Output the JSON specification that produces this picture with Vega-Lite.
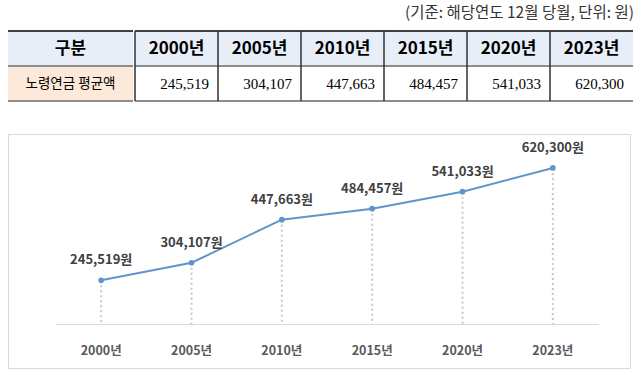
{
  "$schema": "https://vega.github.io/schema/vega-lite/v6.json",
  "padding": {"left": 7, "top": 5, "right": 0, "bottom": 0},
  "background": "white",
  "spacing": 31,
  "title": {"text": "(기준: 해당연도 12월 당월, 단위: 원)", "anchor": "end", "fontSize": 15.5, "fontWeight": "normal", "color": "#333333", "font": "Noto Sans CJK KR", "offset": 9},
  "config": {"view": {"stroke": null}, "font": "Noto Sans CJK KR"},
  "resolve": {"scale": {"x": "independent", "y": "independent"}},
  "datasets": {
    "pension": [
      {"year": "2000년", "value": 245519},
      {"year": "2005년", "value": 304107},
      {"year": "2010년", "value": 447663},
      {"year": "2015년", "value": 484457},
      {"year": "2020년", "value": 541033},
      {"year": "2023년", "value": 620300}
    ],
    "rows": [
      {"kind": "header", "text": "구분"},
      {"kind": "data", "text": "노령연금 평균액"}
    ]
  },
  "vconcat": [
    {
      "spacing": 0,
      "resolve": {"scale": {"x": "independent", "y": "independent"}},
      "hconcat": [
        {
          "width": 125,
          "height": 70,
          "data": {"name": "rows"},
          "layer": [
            {"mark": {"type": "rect"}, "encoding": {
              "y": {"field": "kind", "type": "nominal", "sort": null, "scale": {"domain": ["header", "data"], "paddingInner": 0, "paddingOuter": 0}, "axis": null},
              "fill": {"condition": {"test": "datum.kind === 'header'", "value": "#e7eef8"}, "value": "#fde9d9"}}},
            {"mark": {"type": "rule", "strokeWidth": 2}, "encoding": {"y": {"field": "kind", "type": "nominal", "sort": null, "bandPosition": 0}, "stroke": {"condition": {"test": "datum.kind === 'header'", "value": "#404040"}, "value": "#8c8c8c"}}},
            {"transform": [{"filter": "datum.kind === 'data'"}], "mark": {"type": "rule", "strokeWidth": 2, "stroke": "#8c8c8c"}, "encoding": {"y": {"field": "kind", "type": "nominal", "sort": null, "bandPosition": 1}}},
            {"transform": [{"filter": "datum.kind === 'header'"}], "mark": {"type": "text", "fontSize": 17, "fontWeight": "bold", "color": "#000000"}, "encoding": {"y": {"field": "kind", "type": "nominal", "sort": null}, "text": {"field": "text"}}},
            {"transform": [{"filter": "datum.kind === 'data'"}], "mark": {"type": "text", "fontSize": 13.5, "color": "#000000"}, "encoding": {"y": {"field": "kind", "type": "nominal", "sort": null}, "text": {"field": "text"}}}
          ]
        },
        {
          "width": 498,
          "height": 70,
          "data": {"name": "pension"},
          "layer": [
            {"mark": {"type": "rect", "fill": "#e7eef8"}, "encoding": {
              "x": {"field": "year", "type": "ordinal", "sort": null, "scale": {"paddingInner": 0, "paddingOuter": 0}, "axis": null},
              "y": {"datum": "header", "type": "nominal", "scale": {"domain": ["header", "data"], "paddingInner": 0, "paddingOuter": 0}, "axis": null}}},
            {"mark": {"type": "rule", "strokeWidth": 2, "stroke": "#404040"}, "encoding": {"y": {"datum": "header", "type": "nominal", "bandPosition": 0}}},
            {"mark": {"type": "rule", "strokeWidth": 2, "stroke": "#8c8c8c"}, "encoding": {"y": {"datum": "data", "type": "nominal", "bandPosition": 0}}},
            {"mark": {"type": "rule", "strokeWidth": 2, "stroke": "#8c8c8c"}, "encoding": {"y": {"datum": "data", "type": "nominal", "bandPosition": 1}}},
            {"mark": {"type": "rule", "strokeWidth": 1.5, "stroke": "#303030"}, "encoding": {"x": {"field": "year", "type": "ordinal", "sort": null, "bandPosition": 0}}},
            {"mark": {"type": "text", "fontSize": 17, "fontWeight": "bold", "color": "#000000"}, "encoding": {"x": {"field": "year", "type": "ordinal", "sort": null}, "y": {"datum": "header", "type": "nominal"}, "text": {"field": "year"}}},
            {"mark": {"type": "text", "fontSize": 15, "font": "Liberation Serif", "color": "#000000", "align": "right", "dx": -9}, "encoding": {"x": {"field": "year", "type": "ordinal", "sort": null, "bandPosition": 1}, "y": {"datum": "data", "type": "nominal"}, "text": {"field": "value", "type": "quantitative", "format": ","}}}
          ]
        }
      ]
    },
    {
      "width": 622,
      "height": 234,
      "view": {"stroke": "#d9d9d9", "strokeWidth": 1},
      "data": {"name": "pension"},
      "transform": [{"calculate": "format(datum.value, ',') + '원'", "as": "label"}],
      "encoding": {
        "x": {"field": "year", "type": "ordinal", "sort": null, "scale": {"type": "band", "range": [48, 590], "paddingInner": 0, "paddingOuter": 0},
          "axis": {"title": null, "orient": "bottom", "offset": -44, "ticks": false, "tickSize": 0, "labelPadding": 20, "labelAngle": 0, "labelFontSize": 12.5, "labelFontWeight": "bold", "labelColor": "#595959", "labelFont": "Noto Sans CJK KR", "domainColor": "#d9d9d9", "domainWidth": 1, "grid": false}},
        "y": {"field": "value", "type": "quantitative", "scale": {"domain": [100000, 700000], "range": [190, 10], "zero": false, "nice": false}, "axis": null}
      },
      "layer": [
        {"mark": {"type": "rule", "stroke": "#c8c8c8", "strokeWidth": 2, "strokeDash": [2, 3]}, "encoding": {"y2": {"datum": 100000}}},
        {"mark": {"type": "line", "stroke": "#5f95cc", "strokeWidth": 2}},
        {"mark": {"type": "point", "filled": true, "fill": "#5f95cc", "size": 32, "opacity": 1}},
        {"mark": {"type": "text", "fontSize": 13, "fontWeight": "bold", "color": "#404040", "dy": -20}, "encoding": {"text": {"field": "label"}}}
      ]
    }
  ]
}
